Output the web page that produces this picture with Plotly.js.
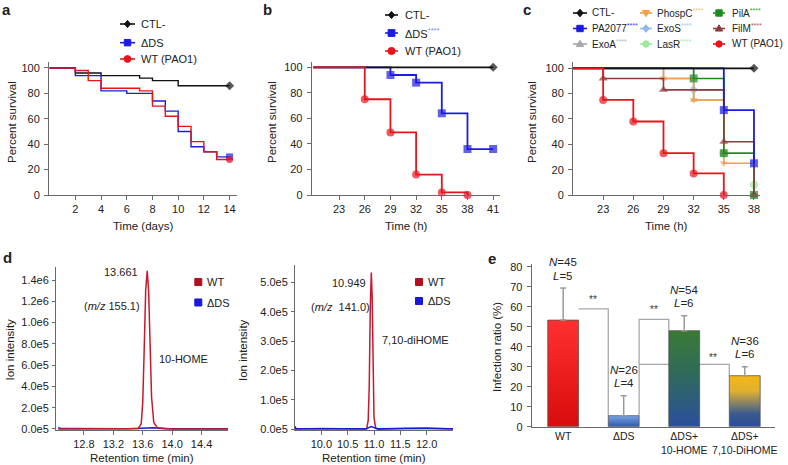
<!DOCTYPE html>
<html><head><meta charset="utf-8">
<script src="https://cdn.plot.ly/plotly-3.0.1.min.js"></script>
<style>html,body{margin:0;padding:0;background:#fff}#chart{width:788px;height:465px}</style>
</head><body><div id="chart"></div>
<script>
// ================= DATA =================
// Panel a (days)
const aDaysCTL = [0, 2, 4, 7, 8, 10, 14];
const aCTL     = [100, 96, 94, 92, 90, 86, 86];
const aDaysDS  = [0, 2, 4, 6, 8, 9, 10, 11, 12, 13, 14];
const aDS      = [100, 94, 82, 80, 74, 66, 50, 38, 34, 30, 30];
const aDaysWT  = [0, 2, 3, 4, 7, 8, 9, 10, 11, 12, 13, 14];
const aWT      = [100, 98, 90, 84, 82, 70, 62, 54, 42, 34, 28, 28];
const aXTicks  = [2, 4, 6, 8, 10, 12, 14];
const survTicks = [0, 20, 40, 60, 80, 100];

// Panel b (hours)
const bTimeCTL = [20, 41];                 const bCTL = [100, 100];
const bTimeDS  = [20, 29, 32, 35, 38, 41]; const bDS  = [100, 94, 88, 64, 36, 36];
const bTimeWT  = [20, 26, 29, 32, 35, 38]; const bWT  = [100, 75, 49, 16, 2, 0];
const bXTicks  = [23, 26, 29, 32, 35, 38, 41];

// Panel c (hours)
const cTimeCTL    = [20, 38];             const cCTL    = [100, 100];
const cTimePA2077 = [20, 35, 38];         const cPA2077 = [100, 67, 25];
const cTimeExoA   = [20, 29, 32, 35, 38]; const cExoA   = [100, 92, 75, 33, 0];
const cTimePhospC = [20, 29, 32, 35, 38]; const cPhospC = [100, 92, 75, 25, 0];
const cTimeExoS   = [20, 32, 35, 38];     const cExoS   = [100, 83, 33, 0];
const cTimeLasR   = [20, 35, 38];         const cLasR   = [100, 33, 8];
const cTimePilA   = [20, 32, 35, 38];     const cPilA   = [100, 92, 33, 0];
const cTimeFilM   = [20, 23, 29, 35, 38]; const cFilM   = [100, 92, 83, 42, 0];
const cTimeWT     = [20, 23, 26, 29, 32, 35]; const cWT = [100, 75, 58, 33, 17, 0];
const cXTicks = [23, 26, 29, 32, 35, 38];

// Panel d, left: 10-HOME chromatogram (m/z 155.1)
const dHomeTimeWT = [12.45, 13.45, 13.54, 13.58, 13.60, 13.62, 13.64, 13.661, 13.68, 13.70, 13.72, 13.75, 13.80, 14.0, 14.79];
const dHomeWT     = [0, 0, 5e3, 5e4, 2.5e5, 7.5e5, 1.3e6, 1.487e6, 1.3e6, 8e5, 3e5, 6e4, 1e4, 0, 0];
const dHomeTimeDS = [12.45, 12.5, 13.4, 13.55, 13.65, 13.75, 13.9, 14.79];
const dHomeDS     = [1.2e4, 3e3, 2e3, 8e3, 1.2e4, 1e4, 2e3, 2e3];
const dHomeYTicks  = [0, 2e5, 4e5, 6e5, 8e5, 1e6, 1.2e6, 1.4e6];
const dHomeYLabels = ['0.0e5', '2.0e5', '4.0e5', '6.0e5', '8.0e5', '1.0e6', '1.2e6', '1.4e6'];
const dHomeXTicks  = [12.8, 13.2, 13.6, 14.0, 14.4];

// Panel d, right: 7,10-diHOME chromatogram (m/z 141.0)
const dDiTimeWT = [9.5, 10.0, 10.8, 10.86, 10.89, 10.91, 10.93, 10.949, 10.965, 10.98, 11.0, 11.03, 11.08, 11.6, 12.0, 12.5];
const dDiWT     = [0, 2e3, 0, 5e2, 3e4, 1.5e5, 4.2e5, 5.33e5, 4.5e5, 2.0e5, 4e4, 5e3, 0, 3e3, 4e3, 0];
const dDiTimeDS = [9.5, 9.52, 10.85, 10.9, 10.95, 11.0, 11.05, 12.0, 12.5];
const dDiDS     = [1e4, 1e3, 1e3, 5e3, 9e3, 5e3, 1e3, 2e3, 1e3];
const dDiYTicks  = [0, 1e5, 2e5, 3e5, 4e5, 5e5];
const dDiYLabels = ['0.0e5', '1.0e5', '2.0e5', '3.0e5', '4.0e5', '5.0e5'];
const dDiXTicks  = [10.0, 10.5, 11.0, 11.5, 12.0];

// Panel e
const eGroups = ['WT', 'ΔDS', 'ΔDS+<br>10-HOME', 'ΔDS+<br>7,10-DiHOME'];
const eRatio  = [53.3, 5.5, 48, 25.5];
const eErr    = [16, 10, 7.5, 4.5];
const eN      = [45, 26, 54, 36];
const eL      = [5, 4, 6, 6];
const eYTicks = [0, 10, 20, 30, 40, 50, 60, 70, 80];

// ================= HELPERS =================
const W = 788, H = 465;
const px = x => x / W, py = y => 1 - y / H;
const FONT = 'Liberation Sans, Arial, Helvetica, sans-serif';
const AX = '#6a6a6a';

function xa(x0, x1, range, anchor, extra) {
  return Object.assign({domain: [px(x0), px(x1)], range, anchor, showline: true, linecolor: AX, linewidth: 1,
    ticks: 'outside', ticklen: 4, tickcolor: AX, tickwidth: 1, showgrid: false, zeroline: false, tickangle: 0,
    tickfont: {size: 11, color: '#222', family: FONT}, fixedrange: true, automargin: false}, extra || {});
}
function ya(top, bottom, range, anchor, extra) {
  return Object.assign({domain: [py(bottom), py(top)], range, anchor, showline: true, linecolor: AX, linewidth: 1,
    ticks: 'outside', ticklen: 4, tickcolor: AX, tickwidth: 1, showgrid: false, zeroline: false,
    ticklabelstandoff: 2,
    tickfont: {size: 11, color: '#222', family: FONT}, fixedrange: true, automargin: false}, extra || {});
}
const sizesLast = (arr, s) => arr.map((_, i) => i === arr.length - 1 ? s : 0);
const sizesSkipFirst = (arr, s) => arr.map((_, i) => i === 0 ? 0 : s);

function step(x, y, ax, color, width, symbol, sizes, name) {
  return {type: 'scatter', mode: 'lines+markers', x, y, xaxis: ax[0], yaxis: ax[1], name,
    line: {shape: 'hv', color, width}, cliponaxis: false,
    marker: {symbol, size: sizes, color, line: {width: 0}}, hoverinfo: 'skip'};
}

const shapes = [];
const annos = [];
function text(x, y, t, size, opts) {
  annos.push(Object.assign({xref: 'paper', yref: 'paper', x: px(x), y: py(y), text: t, showarrow: false,
    xanchor: 'center', yanchor: 'middle', font: {size, color: '#222', family: FONT}}, opts || {}));
}
function markerShape(sym, cx, cy, r, fill) {
  if (sym === 'circle') {
    return {type: 'circle', xref: 'paper', yref: 'paper', x0: px(cx - r), x1: px(cx + r), y0: py(cy + r), y1: py(cy - r),
      fillcolor: fill, line: {color: fill, width: 1}};
  }
  let pts;
  if (sym === 'square') pts = [[cx - r, cy - r], [cx + r, cy - r], [cx + r, cy + r], [cx - r, cy + r]];
  else if (sym === 'diamond') pts = [[cx, cy - r * 1.2], [cx + r, cy], [cx, cy + r * 1.2], [cx - r, cy]];
  else if (sym === 'triangle-up') pts = [[cx, cy - r * 1.15], [cx + r * 1.15, cy + r * 0.8], [cx - r * 1.15, cy + r * 0.8]];
  else if (sym === 'triangle-down') pts = [[cx, cy + r * 1.15], [cx + r * 1.15, cy - r * 0.8], [cx - r * 1.15, cy - r * 0.8]];
  const path = 'M' + pts.map(p => px(p[0]).toFixed(5) + ',' + py(p[1]).toFixed(5)).join('L') + 'Z';
  return {type: 'path', xref: 'paper', yref: 'paper', path, fillcolor: fill, line: {color: fill, width: 1}};
}
function legendEntry(x0, x1, y, tx, color, sym, r, label, size) {
  if (x0 !== null) shapes.push({type: 'line', xref: 'paper', yref: 'paper', x0: px(x0), x1: px(x1), y0: py(y), y1: py(y),
    line: {color, width: 1.6}});
  const cx = x0 !== null ? (x0 + x1) / 2 : x1;
  shapes.push(markerShape(sym, cx, y, r, color));
  text(tx, y, label, size, {xanchor: 'left'});
}
const stars = c => `<span style="color:${c}"><sup>****</sup></span>`;

// ================= COLORS =================
const BLACK = '#111111', BLUE = '#1c1ce0', RED = '#e8141c';
const C = {PhospC: '#f5a142', PilA: '#1e8a1e', PA2077: '#1a1ae6', ExoS: '#8fb8ec', FilM: '#8b3d3d',
  ExoA: '#a8a8a8', LasR: '#9ce89c'};

// ================= TRACES =================
const traces = [];
// a
traces.push(step(aDaysCTL, aCTL, ['x', 'y'], BLACK, 1.4, 'diamond', sizesLast(aCTL, 7), 'CTL-'));
traces.push(step(aDaysDS, aDS, ['x', 'y'], BLUE, 1.4, 'square', sizesLast(aDS, 7), 'ΔDS'));
traces.push(step(aDaysWT, aWT, ['x', 'y'], RED, 1.4, 'circle', sizesLast(aWT, 7), 'WT (PAO1)'));
// b
traces.push(step(bTimeDS, bDS, ['x2', 'y2'], BLUE, 1.8, 'square', sizesSkipFirst(bDS, 8), 'ΔDS'));
traces.push(step(bTimeCTL, bCTL, ['x2', 'y2'], BLACK, 1.8, 'diamond', sizesSkipFirst(bCTL, 7), 'CTL-'));
traces.push(step(bTimeWT, bWT, ['x2', 'y2'], RED, 1.8, 'circle', sizesSkipFirst(bWT, 8), 'WT (PAO1)'));
// c
traces.push(step(cTimeExoS, cExoS, ['x3', 'y3'], C.ExoS, 1.6, 'diamond', sizesSkipFirst(cExoS, 7), 'ExoS'));
traces.push(step(cTimeLasR, cLasR, ['x3', 'y3'], C.LasR, 1.6, 'circle', sizesSkipFirst(cLasR, 8), 'LasR'));
traces.push(step(cTimeExoA, cExoA, ['x3', 'y3'], C.ExoA, 1.6, 'triangle-up', sizesSkipFirst(cExoA, 7), 'ExoA'));
traces.push(step(cTimePhospC, cPhospC, ['x3', 'y3'], C.PhospC, 1.6, 'triangle-down', sizesSkipFirst(cPhospC, 7), 'PhospC'));
traces.push(step(cTimePilA, cPilA, ['x3', 'y3'], C.PilA, 1.6, 'square', sizesSkipFirst(cPilA, 8), 'PilA'));
traces.push(step(cTimeFilM, cFilM, ['x3', 'y3'], C.FilM, 1.6, 'triangle-up', sizesSkipFirst(cFilM, 8), 'FilM'));
traces.push(step(cTimePA2077, cPA2077, ['x3', 'y3'], C.PA2077, 1.8, 'square', sizesSkipFirst(cPA2077, 8), 'PA2077'));
traces.push(step(cTimeCTL, cCTL, ['x3', 'y3'], BLACK, 1.8, 'diamond', sizesSkipFirst(cCTL, 7), 'CTL-'));
traces.push(step(cTimeWT, cWT, ['x3', 'y3'], RED, 1.8, 'circle', sizesSkipFirst(cWT, 8), 'WT (PAO1)'));
// d
const dWTColor = '#c8182c', dDSColor = '#1818d8';
traces.push({type: 'scatter', mode: 'lines', x: dHomeTimeDS, y: dHomeDS, xaxis: 'x4', yaxis: 'y4', line: {color: dDSColor, width: 1.5}, cliponaxis: false, hoverinfo: 'skip'});
traces.push({type: 'scatter', mode: 'lines', x: dHomeTimeWT, y: dHomeWT, xaxis: 'x4', yaxis: 'y4', line: {color: dWTColor, width: 1.5}, cliponaxis: false, hoverinfo: 'skip'});
traces.push({type: 'scatter', mode: 'lines', x: dDiTimeWT, y: dDiWT, xaxis: 'x5', yaxis: 'y5', line: {color: dWTColor, width: 1.5}, cliponaxis: false, hoverinfo: 'skip'});
traces.push({type: 'scatter', mode: 'lines', x: dDiTimeDS, y: dDiDS, xaxis: 'x5', yaxis: 'y5', line: {color: dDSColor, width: 1.5}, cliponaxis: false, hoverinfo: 'skip'});
// e
const eX = eGroups.map((_, i) => i);
traces.push({type: 'bar', x: eX, y: eRatio, xaxis: 'x6', yaxis: 'y6', width: 0.51,
  marker: {color: ['#ee1818', '#4a78c8', '#2e6a58', '#c89a30'], line: {color: '#555', width: 0.8}},
  error_y: {type: 'data', symmetric: false, array: eErr, arrayminus: eErr.map(() => 0), color: '#9a9a9a', thickness: 1.5, width: 3},
  hoverinfo: 'skip'});

// ================= LEGENDS / LABELS =================
// a
legendEntry(120, 135, 24, 139, BLACK, 'diamond', 3, 'CTL-', 11);
legendEntry(120, 135, 42.7, 139, BLUE, 'square', 3.2, 'ΔDS', 11);
legendEntry(120, 135, 59, 139, RED, 'circle', 3.4, 'WT (PAO1)', 11);
// b
legendEntry(385, 398, 15, 403, BLACK, 'diamond', 3, 'CTL-', 11);
legendEntry(385, 398, 33, 403, BLUE, 'square', 3.4, 'ΔDS' + stars('#7a8cf0'), 11);
legendEntry(385, 398, 51, 403, RED, 'circle', 3.6, 'WT (PAO1)', 11);
// c
const cCols = [[573, 587, 590], [640, 652, 655], [713, 725, 730]];
const cRows = [13, 28.5, 44];
const cLeg = [
  [0, 0, BLACK, 'diamond', 'CTL-'], [1, 0, C.PhospC, 'triangle-down', 'PhospC' + stars('#f5c070')], [2, 0, C.PilA, 'square', 'PilA' + stars('#30a030')],
  [0, 1, C.PA2077, 'square', 'PA2077' + stars('#3a3af0')], [1, 1, C.ExoS, 'diamond', 'ExoS' + stars('#a8c8f0')], [2, 1, C.FilM, 'triangle-up', 'FilM' + stars('#b06060')],
  [0, 2, C.ExoA, 'triangle-up', 'ExoA' + stars('#b8b8b8')], [1, 2, C.LasR, 'circle', 'LasR' + stars('#a8eca8')], [2, 2, RED, 'circle', 'WT (PAO1)']];
cLeg.forEach(([ci, ri, col, sym, lab]) => legendEntry(cCols[ci][0], cCols[ci][1], cRows[ri], cCols[ci][2], col, sym, 3.2, lab, 10));
// d legends (square markers)
legendEntry(null, 198.3, 282, 205, '#b01020', 'square', 3.5, 'WT', 11);
legendEntry(null, 198.3, 302.5, 205, dDSColor, 'square', 3.5, 'ΔDS', 11);
legendEntry(null, 419, 282, 425.5, '#b01020', 'square', 3.5, 'WT', 11);
legendEntry(null, 419, 301, 425.5, dDSColor, 'square', 3.5, 'ΔDS', 11);
// d annotations
text(140, 272, '13.661', 11, {xanchor: 'right'});
text(112, 306, '(<i>m/z</i> 155.1)', 11);
text(183, 359, '10-HOME', 11);
text(368, 282.5, '10.949', 11, {xanchor: 'right'});
text(340, 306.5, '(<i>m/z</i>  141.0)', 11);
text(415, 340, '7,10-diHOME', 11);

// axis titles
const TS = 11.5;
text(12, 122, 'Percent survival', TS, {textangle: -90});
text(272, 122, 'Percent survival', TS, {textangle: -90});
text(532, 122, 'Percent survival', TS, {textangle: -90});
text(143, 226, 'Time (days)', TS);
text(406, 226, 'Time (h)', TS);
text(666, 226, 'Time (h)', TS);
text(9.5, 350, 'Ion intensity', TS, {textangle: -90});
text(243, 350, 'Ion intensity', TS, {textangle: -90});
text(142, 458, 'Retention time (min)', TS);
text(374, 458, 'Retention time (min)', TS);
text(497, 347, 'Infection ratio (%)', TS, {textangle: -90});

// panel letters
const letter = (x, y, t) => text(x, y, '<b>' + t + '</b>', 15);
letter(6, 9, 'a'); letter(267, 9, 'b'); letter(527, 10, 'c'); letter(7, 257, 'd'); letter(492, 258, 'e');

// e: N / L labels above error bars
eX.forEach(i => {
  const top = eRatio[i] + eErr[i];
  annos.push({xref: 'x6', yref: 'y6', x: i, y: top, yshift: 26, text: `<i>N</i>=${eN[i]}`, showarrow: false,
    font: {size: 11.5, color: '#222', family: FONT}, yanchor: 'middle'});
  annos.push({xref: 'x6', yref: 'y6', x: i, y: top, yshift: 12.5, text: `<i>L</i>=${eL[i]}`, showarrow: false,
    font: {size: 11.5, color: '#222', family: FONT}, yanchor: 'middle'});
});
// e: significance brackets
const hw = 0.255;
const br = {type: 'path', xref: 'x6', yref: 'y6', line: {color: '#a8a8a8', width: 1.3}, fillcolor: 'rgba(0,0,0,0)', layer: 'below'};
shapes.push(Object.assign({}, br, {path: `M${0 + hw},58.9 L${1 - hw},58.9 L${1 - hw},${eRatio[1]}`}));
shapes.push(Object.assign({}, br, {path: `M${1 + hw},${eRatio[1]} L${1 + hw},53.7 L${2 - hw},53.7 L${2 - hw},${eRatio[2]}`}));
shapes.push(Object.assign({}, br, {path: `M${1 + hw},31.2 L${3 - hw},31.2 L${3 - hw},${eRatio[3]}`}));
[[0.5, 63.6], [1.5, 58.6], [2.48, 34.6]].forEach(([x, y]) => annos.push({xref: 'x6', yref: 'y6', x, y, text: '**',
  showarrow: false, font: {size: 10, color: '#333', family: FONT}}));

// ================= LAYOUT =================
const layout = {
  width: W, height: H, margin: {l: 0, r: 0, t: 0, b: 0}, showlegend: false,
  paper_bgcolor: '#fff', plot_bgcolor: 'rgba(0,0,0,0)', font: {family: FONT, color: '#222'},
  xaxis:  xa(49, 237.3, [-0.05, 14.6], 'y', {tickvals: aXTicks}),
  yaxis:  ya(62, 195, [0, 104.7], 'x', {tickvals: survTicks}),
  xaxis2: xa(311.7, 500, [19.8, 41.8], 'y2', {tickvals: bXTicks}),
  yaxis2: ya(61.7, 195, [0, 104.4], 'x2', {tickvals: survTicks}),
  xaxis3: xa(573, 760, [20, 38.6], 'y3', {tickvals: cXTicks}),
  yaxis3: ya(61.7, 195, [0, 105.2], 'x3', {tickvals: survTicks}),
  xaxis4: xa(56, 228, [12.42, 14.76], 'y4', {tickvals: dHomeXTicks, tickformat: '.1f'}),
  yaxis4: ya(266.7, 430, [-1e4, 1.525e6], 'x4', {tickvals: dHomeYTicks, ticktext: dHomeYLabels, ticklen: 3, ticklabelstandoff: 1}),
  xaxis5: xa(295, 453, [9.5, 12.5], 'y5', {tickvals: dDiXTicks, tickformat: '.1f'}),
  yaxis5: ya(265, 430, [-3e3, 5.59e5], 'x5', {tickvals: dDiYTicks, ticktext: dDiYLabels, ticklen: 3, ticklabelstandoff: 1}),
  xaxis6: xa(531.7, 775, [-0.52, 3.5], 'y6', {tickvals: eX, ticktext: eGroups, ticks: '', tickangle: 0,
    tickfont: {size: 10.5, color: '#222', family: FONT}}),
  yaxis6: ya(264, 426.7, [0, 81.35], 'x6', {tickvals: eYTicks}),
  shapes, annotations: annos
};

Plotly.newPlot('chart', traces, layout, {displayModeBar: false, staticPlot: true}).then(() => {
  const NS = 'http://www.w3.org/2000/svg';
  const svg = document.querySelector('#chart svg.main-svg');
  let defs = svg.querySelector('defs');
  if (!defs) { defs = document.createElementNS(NS, 'defs'); svg.insertBefore(defs, svg.firstChild); }
  const grads = [
    [['0', '#ff3030'], ['1', '#d80c0c']],
    [['0', '#7aa4e8'], ['1', '#2c58a8']],
    [['0', '#3a7a34'], ['0.45', '#2f6a5a'], ['1', '#2a4f9e']],
    [['0', '#f4b814'], ['0.3', '#e0b030'], ['0.75', '#3a5a90'], ['1', '#2a4c98']]
  ];
  grads.forEach((stops, i) => {
    const g = document.createElementNS(NS, 'linearGradient');
    g.setAttribute('id', 'egrad' + i);
    g.setAttribute('x1', '0'); g.setAttribute('y1', '0'); g.setAttribute('x2', '0'); g.setAttribute('y2', '1');
    stops.forEach(([o, c]) => {
      const s = document.createElementNS(NS, 'stop');
      s.setAttribute('offset', o); s.setAttribute('stop-color', c);
      g.appendChild(s);
    });
    defs.appendChild(g);
  });
  document.querySelectorAll('#chart .barlayer .point path').forEach((p, i) => {
    p.style.fill = 'url(#egrad' + i + ')';
  });
});
</script>
</body></html>
